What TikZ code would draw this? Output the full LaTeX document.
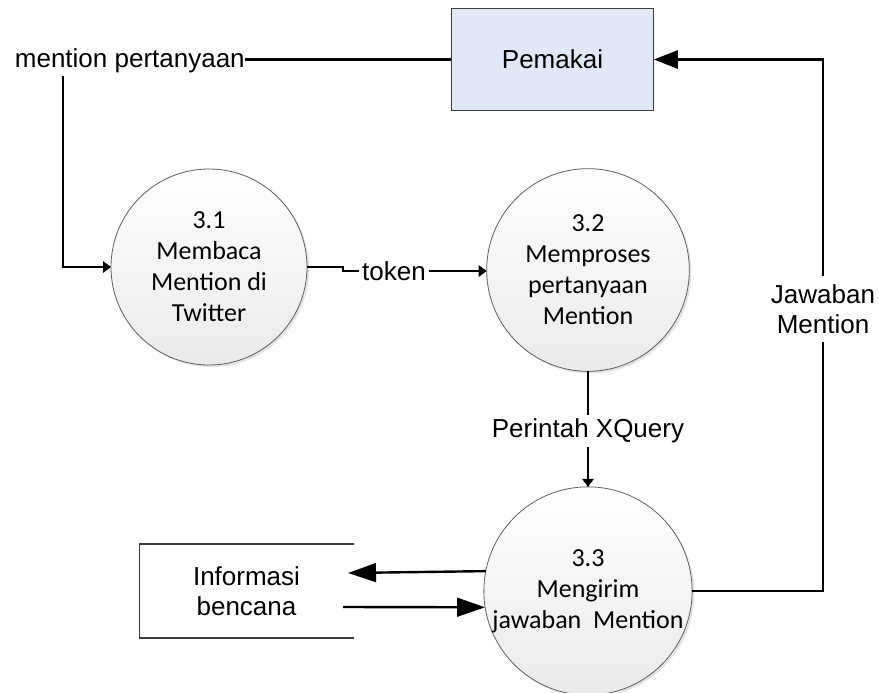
\documentclass[tikz,border=0pt]{standalone}
\usepackage{fontspec}
\setmainfont{Liberation Sans}
\newfontfamily\calfont{Carlito}
\usetikzlibrary{arrows.meta,shadows}

\definecolor{pemfill}{RGB}{225,232,245}
\definecolor{procgray}{RGB}{234,234,234}
\definecolor{procedge}{RGB}{95,95,95}
\definecolor{boxedge}{RGB}{60,60,60}

\begin{document}
\begin{tikzpicture}[x=0.75pt,y=-0.75pt,
  every node/.style={font=\fontsize{19.5}{22.5}\selectfont},
  proc/.style={circle, draw=procedge, line width=0.6pt,
    top color=white, bottom color=procgray,
    minimum size=150pt, inner sep=0pt, outer sep=0pt, align=center,
    font=\calfont\fontsize{19.5}{23.3}\selectfont,
    drop shadow={shadow xshift=1.6pt, shadow yshift=-1.6pt, opacity=0.22, fill=gray}},
  extbox/.style={draw=boxedge, line width=0.9pt, inner sep=0pt, outer sep=0pt},
  boxline/.style={draw=boxedge, line width=0.9pt},
  flow/.style={line width=1.8pt, line join=miter},
  smalltip/.style={-{Triangle[length=6pt,width=8.5pt]}},
  bigtip/.style={-{Triangle[length=18pt,width=13.5pt]}},
  infotip/.style={-{Triangle[length=21pt,width=14pt]}}
]
\useasboundingbox (0,0) rectangle (879,693);

% processes
\node[proc, minimum size=147pt] (c31) at (209,267) {3.1\\Membaca\\Mention di\\Twitter};
\node[proc, minimum size=152pt] (c32) at (588,270) {3.2\\Memproses\\pertanyaan\\Mention};
\node[proc, minimum size=151pt] (c33) at (588,591) {3.3\\Mengirim\\jawaban\ \ Mention};

% external entity
\node[extbox, fill=pemfill, minimum width=152pt, minimum height=77pt] (pem) at (552.5,59.5) {Pemakai};

% data store (open on the right)
\node[align=center, minimum width=161pt, minimum height=70.5pt, inner sep=0pt, outer sep=0pt] (inf) at (246.5,591) {Informasi\\bencana};
\draw[boxline] (inf.north east) -- (inf.north west) -- (inf.south west) -- (inf.south east);

% incoming mention
\node[anchor=base east, inner sep=0pt] (mp) at (245,67) {mention pertanyaan};
\coordinate (mpdrop) at (63,76);
\draw[flow] (mp.east |- pem.west) -- (pem.west);
\draw[flow, smalltip] (mpdrop) |- (c31.west);

% token flow
\node[inner sep=2pt] (tok) at (394,271) {token};
\draw[flow] (c31.east) -- ++(36,0) |- (tok.west);
\draw[flow, smalltip] (tok.east) -- (tok.east -| c32.west);

% query flow
\node[inner sep=3pt] (xq) at (588,431) {Perintah XQuery};
\draw[flow] (c32.south) -- (xq.north);
\draw[flow, smalltip] (xq.south) -- (c33.north);

% answer back to the user
\node[align=center, inner xsep=2pt, inner ysep=6pt] (jaw) at (823,309) {Jawaban\\Mention};
\draw[flow] (c33.east) -| (jaw.south);
\draw[flow, bigtip] (jaw.north) |- (pem.east);

% exchange with the data store
\coordinate (inftip) at (348,573);
\coordinate (inftail) at (343,607);
\draw[flow, infotip] (c33.169.7) -- (inftip);
\draw[flow, infotip] (inftail) -- (c33.189.1);
\end{tikzpicture}
\end{document}
